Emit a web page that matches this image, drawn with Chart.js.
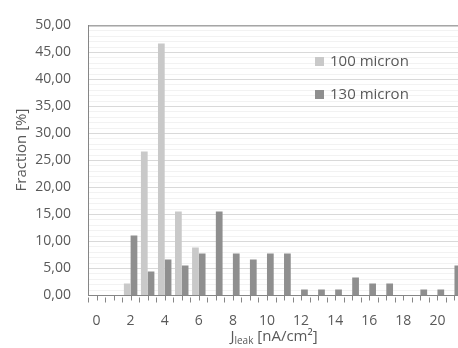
<!DOCTYPE html>
<html>
<head>
<meta charset="utf-8">
<script src="https://cdn.jsdelivr.net/npm/chart.js@4"></script>
<style>
  html, body { margin: 0; padding: 0; background: #fff; overflow: hidden; }
  #wrap { width: 458px; height: 348px; overflow: hidden; }
</style>
</head>
<body>
<div id="wrap"><canvas id="chart" width="480" height="348"></canvas></div>
<script>
const categories = ["0","1","2","3","4","5","6","7","8","9","10","11","12","13","14","15","16","17","18","19","20","21"];
const series100 = [0, 0, 2.22, 26.67, 46.67, 15.56, 8.89, 0, 0, 0, 0, 0, 0, 0, 0, 0, 0, 0, 0, 0, 0, 0];
const series130 = [0, 0, 11.11, 4.44, 6.67, 5.56, 7.78, 15.56, 7.78, 6.67, 7.78, 7.78, 1.11, 1.11, 1.11, 3.33, 2.22, 2.22, 0, 1.11, 1.11, 5.56];
const seriesLabels = ["100 micron", "130 micron"];
const yTitle = "Fraction [%]";

const FONT = "'Open Sans'";
const TEXT = "#595959";
const AXIS = "#868686";

// legend, axis titles and small x ticks drawn by hand
const extras = {
    id: "extras",
    afterDraw(chart) {
        const { ctx, chartArea } = chart;
        ctx.save();

        // top border
        ctx.strokeStyle = AXIS;
        ctx.lineWidth = 1;
        ctx.beginPath();
        ctx.moveTo(chartArea.left, chartArea.top + 0.5);
        ctx.lineTo(chartArea.right, chartArea.top + 0.5);
        ctx.stroke();

        // x tick marks every half category
        const step = (chartArea.right - chartArea.left) / categories.length;
        for (let i = 0; i <= categories.length * 2; i++) {
            const x = Math.round(chartArea.left + i * step / 2) + 0.5;
            const y0 = chartArea.bottom + (i % 2 ? 0 : 2);
            ctx.beginPath();
            ctx.moveTo(x, y0);
            ctx.lineTo(x, y0 + 5);
            ctx.stroke();
        }

        // legend
        ctx.font = "15px " + FONT;
        ctx.textBaseline = "middle";
        ctx.textAlign = "left";
        chart.data.datasets.forEach((ds, i) => {
            const y = 62 + i * 33;
            ctx.fillStyle = ds.backgroundColor;
            ctx.fillRect(315, y - 5, 9, 9);
            ctx.fillStyle = TEXT;
            ctx.fillText(ds.label, 330, y);
        });

        // y title
        ctx.save();
        ctx.translate(22, 150);
        ctx.rotate(-Math.PI / 2);
        ctx.textAlign = "center";
        ctx.font = "15px " + FONT;
        ctx.fillText(yTitle, 0, 0);
        ctx.restore();

        // x title with subscript
        const parts = [["J", 15, 0], ["leak", 10, 4], [" [nA/cm²]", 15, 0]];
        let w = 0;
        parts.forEach(p => { ctx.font = p[1] + "px " + FONT; w += ctx.measureText(p[0]).width; });
        let x = 274 - w / 2;
        parts.forEach(p => {
            ctx.font = p[1] + "px " + FONT;
            ctx.fillText(p[0], x, 337 + p[2]);
            x += ctx.measureText(p[0]).width;
        });
        ctx.restore();
    }
};

new Chart(document.getElementById("chart"), {
    type: "bar",
    data: {
        labels: categories,
        datasets: [
            {
                label: seriesLabels[0],
                data: series100,
                backgroundColor: "#c9c9c9",
                borderWidth: 0,
                barPercentage: 1,
                categoryPercentage: 0.79,
            },
            {
                label: seriesLabels[1],
                data: series130,
                backgroundColor: "#8f8f8f",
                borderWidth: 0,
                barPercentage: 1,
                categoryPercentage: 0.79,
            },
        ],
    },
    options: {
        responsive: false,
        animation: false,
        devicePixelRatio: 1,
        layout: { padding: { left: 0, right: 17, top: 12, bottom: 0 } },
        scales: {
            x: {
                grid: { display: false, drawTicks: false },
                border: { display: true, color: AXIS, width: 1 },
                ticks: {
                    autoSkip: false,
                    maxRotation: 0,
                    padding: 17,
                    color: TEXT,
                    font: { family: FONT, size: 14 },
                    callback: (v, i) => (i % 2 === 0 ? categories[i] : ""),
                },
                afterFit: (s) => { s.height = 52.5; },
            },
            y: {
                min: 0,
                max: 50,
                grid: {
                    drawTicks: false,
                    color: (c) => (c.tick.value % 5 === 0 ? "#d9d9d9" : "#f2f2f2"),
                },
                border: { display: true, color: AXIS, width: 1 },
                ticks: {
                    stepSize: 1,
                    autoSkip: false,
                    padding: 17,
                    color: TEXT,
                    font: { family: FONT, size: 14 },
                    callback: (v) => (v % 5 === 0 ? v.toFixed(2).replace(".", ",") : ""),
                },
                afterFit: (s) => { s.width = 88; },
            },
        },
        plugins: {
            legend: { display: false },
            tooltip: { enabled: false },
        },
    },
    plugins: [extras],
});
</script>
</body>
</html>
